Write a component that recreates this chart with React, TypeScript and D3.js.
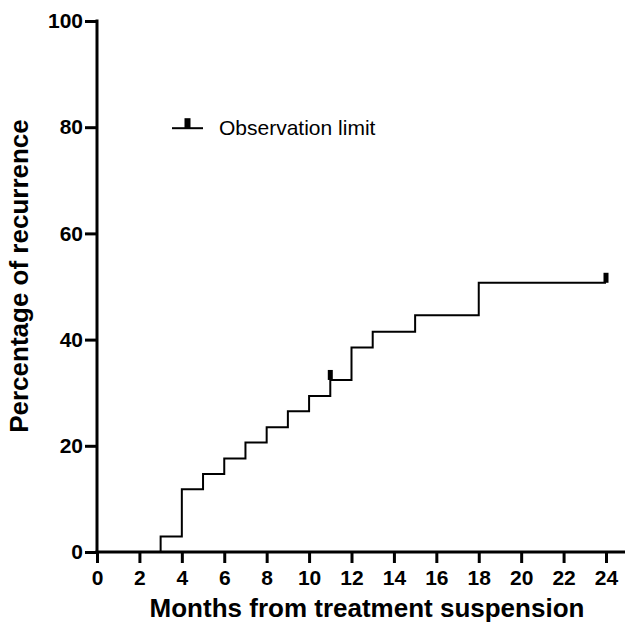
import React, { useEffect, useRef } from "react";
import * as d3 from "d3";

// Kaplan-Meier style cumulative recurrence curve
const stepMonths = [3, 4, 5, 6, 7, 8, 9, 10, 11, 12, 13, 15, 18];
const stepValues = [2.9, 11.8, 14.7, 17.6, 20.6, 23.5, 26.5, 29.4, 32.4, 38.5, 41.5, 44.6, 50.7];
const censorMonths = [11, 24];
const lastMonth = 24;
const xTicks = [0, 2, 4, 6, 8, 10, 12, 14, 16, 18, 20, 22, 24];
const yTicks = [0, 20, 40, 60, 80, 100];
const legendLabel = "Observation limit";

export default function App() {
  const svgRef = useRef<SVGSVGElement>(null);

  useEffect(() => {
    const svg = d3.select(svgRef.current);
    svg.selectAll("*").remove();

    const width = 625;
    const height = 628;
    const margin = { top: 21, right: 0, bottom: 76, left: 97 };
    const font = "'Liberation Sans', Arial, Helvetica, sans-serif";

    const x = d3.scaleLinear().domain([0, 24]).range([margin.left, 606]);
    const y = d3
      .scaleLinear()
      .domain([0, 100])
      .range([height - margin.bottom, margin.top]);

    // build step points
    const pts: [number, number][] = [[0, 0]];
    stepMonths.forEach((m, i) => pts.push([m, stepValues[i]]));
    pts.push([lastMonth, stepValues[stepValues.length - 1]]);

    const valueAt = (m: number) => {
      let v = 0;
      stepMonths.forEach((s, i) => {
        if (s <= m) v = stepValues[i];
      });
      return v;
    };

    const line = d3
      .line<[number, number]>()
      .x((d) => x(d[0]))
      .y((d) => y(d[1]))
      .curve(d3.curveStepAfter);

    svg
      .append("path")
      .datum(pts)
      .attr("d", line)
      .attr("fill", "none")
      .attr("stroke", "#000")
      .attr("stroke-width", 2);

    // censor marks
    svg
      .selectAll("rect.censor")
      .data(censorMonths)
      .enter()
      .append("rect")
      .attr("class", "censor")
      .attr("x", (d) => x(d) - 2.5)
      .attr("y", (d) => y(valueAt(d)) - 10)
      .attr("width", 5)
      .attr("height", 10)
      .attr("fill", "#000");

    // x axis
    const xAxis = svg
      .append("g")
      .attr("transform", `translate(0,${y(0)})`)
      .call(d3.axisBottom(x).tickValues(xTicks).tickSize(11).tickPadding(7).tickSizeOuter(0));
    xAxis.select(".domain").remove();
    xAxis
      .append("line")
      .attr("x1", x(0) - 1.5)
      .attr("x2", width)
      .attr("stroke", "#000")
      .attr("stroke-width", 3);

    // y axis
    const yAxis = svg
      .append("g")
      .attr("transform", `translate(${x(0)},0)`)
      .call(d3.axisLeft(y).tickValues(yTicks).tickSize(12).tickPadding(2).tickSizeOuter(0));
    yAxis.select(".domain").remove();
    yAxis
      .append("line")
      .attr("y1", y(100) - 1.5)
      .attr("y2", y(0) + 1.5)
      .attr("stroke", "#000")
      .attr("stroke-width", 3);

    svg
      .selectAll(".tick line")
      .attr("stroke", "#000")
      .attr("stroke-width", 3);
    svg
      .selectAll(".tick text")
      .attr("fill", "#000")
      .style("font-family", font)
      .style("font-weight", "bold")
      .style("font-size", "21px");

    // axis titles
    svg
      .append("text")
      .attr("x", 367)
      .attr("y", 617)
      .attr("text-anchor", "middle")
      .style("font-family", font)
      .style("font-weight", "bold")
      .style("font-size", "26px")
      .text("Months from treatment suspension");

    svg
      .append("text")
      .attr("transform", "rotate(-90)")
      .attr("x", -276)
      .attr("y", 28)
      .attr("text-anchor", "middle")
      .style("font-family", font)
      .style("font-weight", "bold")
      .style("font-size", "26px")
      .text("Percentage of recurrence");

    // legend
    const ly = y(80) + 1;
    svg
      .append("line")
      .attr("x1", 172)
      .attr("x2", 203)
      .attr("y1", ly)
      .attr("y2", ly)
      .attr("stroke", "#000")
      .attr("stroke-width", 2);
    svg
      .append("rect")
      .attr("x", 184.5)
      .attr("y", ly - 10)
      .attr("width", 6)
      .attr("height", 10)
      .attr("fill", "#000");
    svg
      .append("text")
      .attr("x", 219)
      .attr("y", ly + 7)
      .style("font-family", font)
      .style("font-size", "21px")
      .text(legendLabel);
  }, []);

  return (
    <svg
      ref={svgRef}
      width={625}
      height={628}
      style={{ position: "absolute", left: 0, top: 0, background: "#fff" }}
    />
  );
}
